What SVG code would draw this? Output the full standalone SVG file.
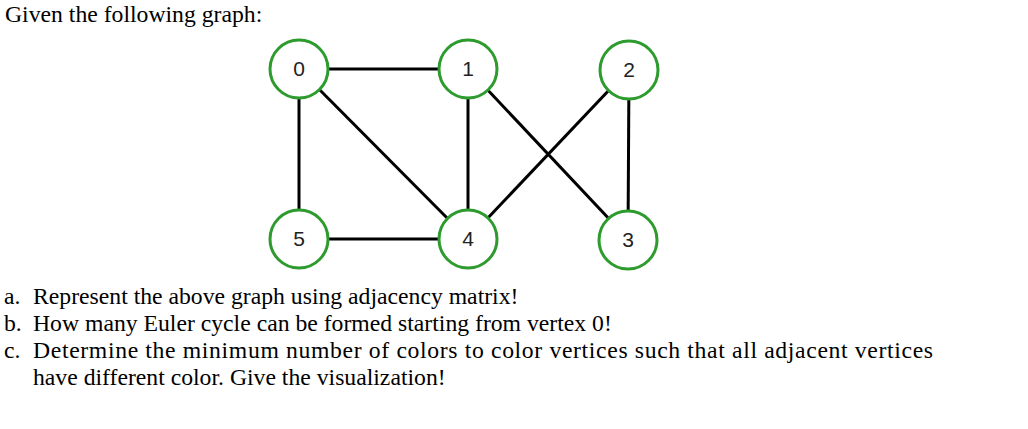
<svg xmlns="http://www.w3.org/2000/svg" width="1028" height="429" viewBox="0 0 1028 429">
<style>
.t{font-family:"Liberation Serif","Times New Roman",serif;font-size:23.7px;fill:#000}
.n circle{fill:#fff;stroke:#2e9b2e;stroke-width:3}
.n text{font-family:"Liberation Sans",Arial,sans-serif;font-size:21px;fill:#222;text-anchor:middle}
.e line{stroke:#000;stroke-width:3}
</style>
<rect width="1028" height="429" fill="#fff"/>
<text class="t" x="5" y="22">Given the following graph:</text>
<g class="e" id="edges">
<line x1="299" y1="69" x2="468" y2="69"/>
<line x1="299" y1="69" x2="299" y2="239"/>
<line x1="299" y1="69" x2="468" y2="239"/>
<line x1="468" y1="69" x2="468" y2="239"/>
<line x1="468" y1="69" x2="628" y2="239"/>
<line x1="629" y1="69" x2="468" y2="239"/>
<line x1="629" y1="69" x2="628" y2="239"/>
<line x1="299" y1="239" x2="468" y2="239"/>
</g>
<g class="n" id="node0"><circle cx="299" cy="69" r="29"/><text x="299" y="76">0</text></g>
<g class="n" id="node1"><circle cx="468" cy="69" r="29"/><text x="468" y="76">1</text></g>
<g class="n" id="node2"><circle cx="629" cy="70" r="29"/><text x="629" y="77">2</text></g>
<g class="n" id="node5"><circle cx="299" cy="239" r="29"/><text x="299" y="246">5</text></g>
<g class="n" id="node4"><circle cx="468" cy="239" r="29"/><text x="468" y="246">4</text></g>
<g class="n" id="node3"><circle cx="628" cy="240" r="29"/><text x="628" y="247">3</text></g>
<text class="t" x="4" y="304">a.</text><text class="t" x="33" y="304">Represent the above graph using adjacency matrix!</text>
<text class="t" x="4" y="331">b.</text><text class="t" x="33" y="331">How many Euler cycle can be formed starting from vertex 0!</text>
<text class="t" x="4" y="358">c.</text><text class="t" x="33" y="358" textLength="900" lengthAdjust="spacing">Determine the minimum number of colors to color vertices such that all adjacent vertices</text>
<text class="t" x="33" y="385">have different color. Give the visualization!</text>
</svg>
